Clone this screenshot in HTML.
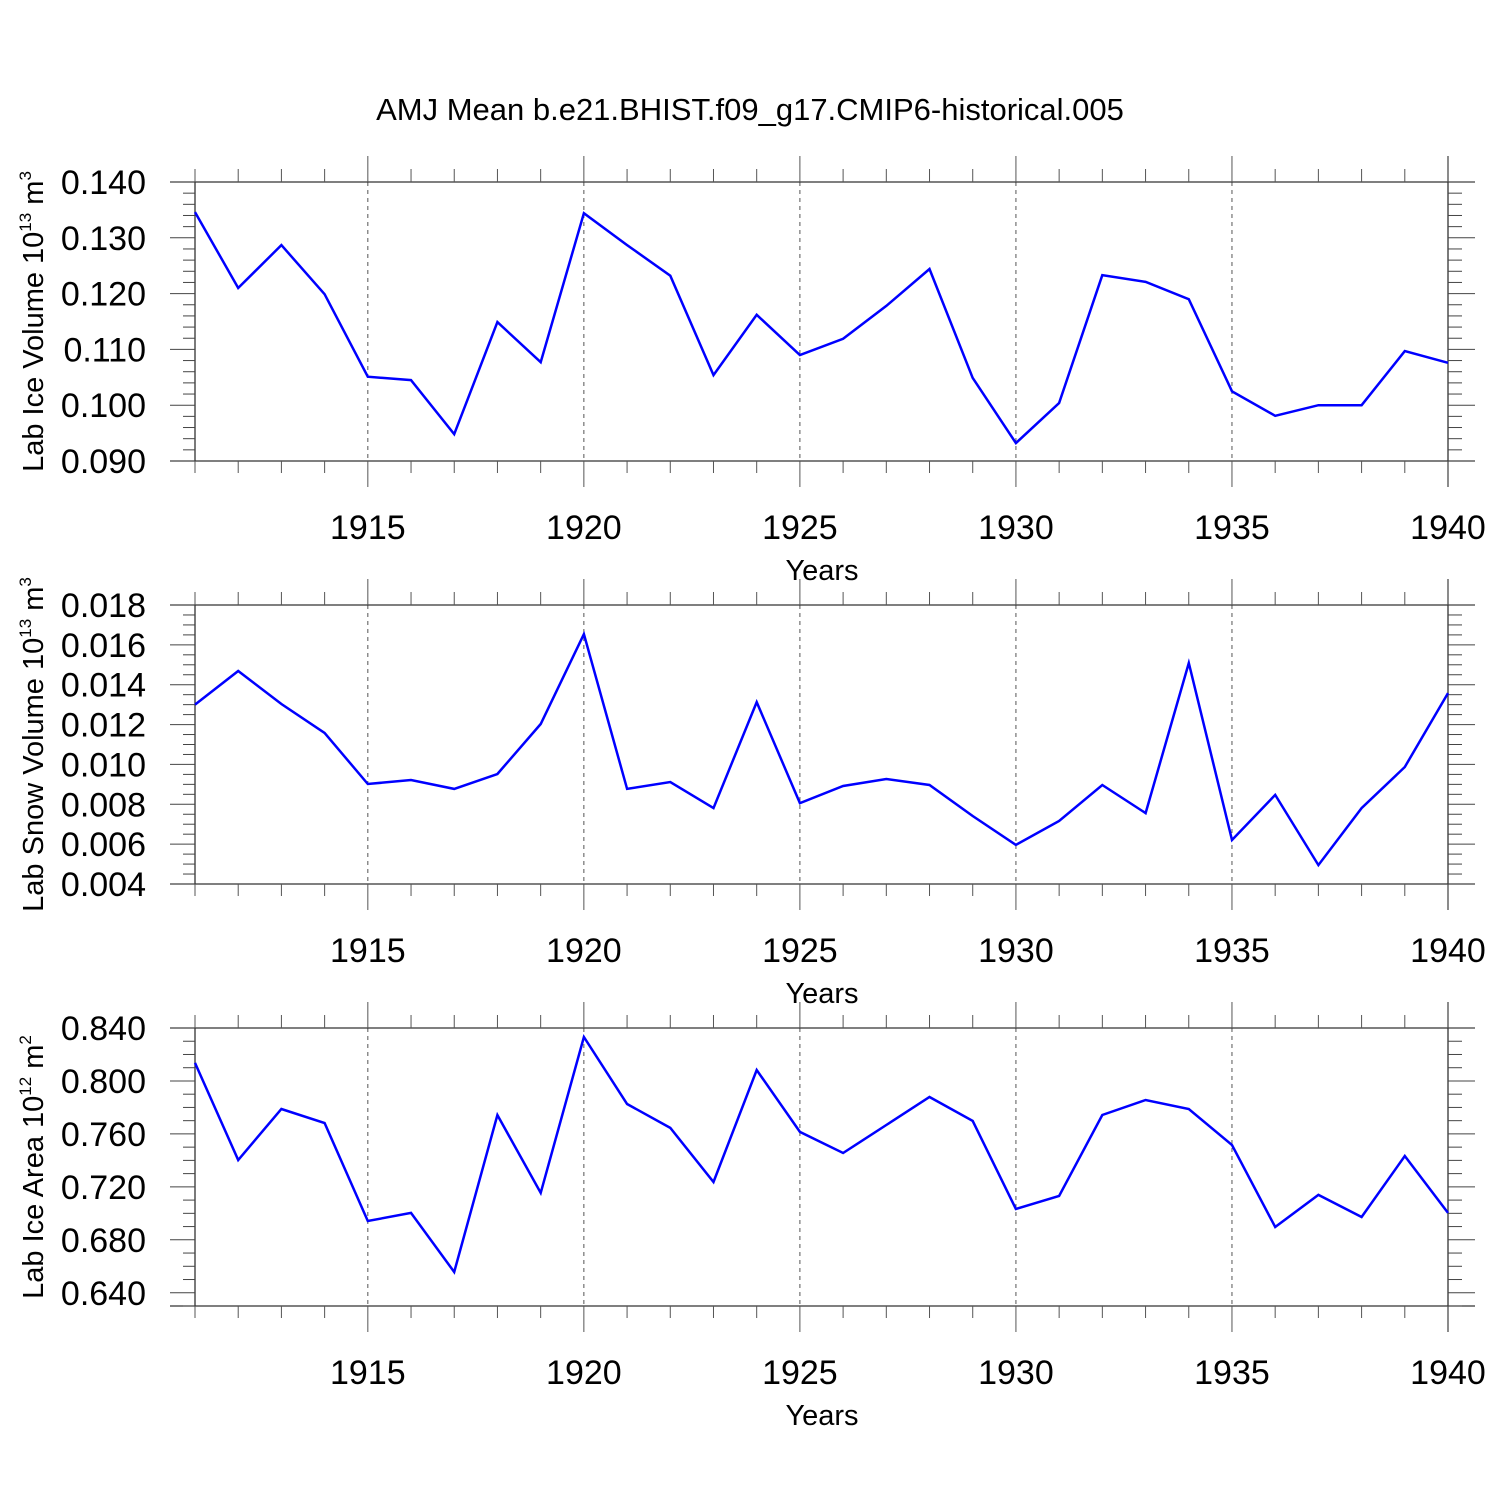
<!DOCTYPE html>
<html><head><meta charset="utf-8"><style>
html,body{margin:0;padding:0;background:#fff;}
svg{display:block;font-family:"Liberation Sans",Arial,sans-serif;}
</style></head><body>
<svg id="chart" width="1500" height="1500" viewBox="0 0 1500 1500" xmlns="http://www.w3.org/2000/svg">
<text x="750" y="120" text-anchor="middle" font-size="31">AMJ Mean b.e21.BHIST.f09_g17.CMIP6-historical.005</text>
</svg>
<script>
const years = [1911,1912,1913,1914,1915,1916,1917,1918,1919,1920,1921,1922,1923,1924,1925,1926,1927,1928,1929,1930,1931,1932,1933,1934,1935,1936,1937,1938,1939,1940];
const iceVolume = [0.1346,0.1210,0.1287,0.1199,0.1051,0.1045,0.0948,0.1149,0.1077,0.1344,0.1287,0.1232,0.1054,0.1162,0.1090,0.1119,0.1178,0.1244,0.1049,0.0932,0.1004,0.1233,0.1221,0.1190,0.1025,0.0981,0.1000,0.1000,0.1097,0.1076];
const snowVolume = [0.0130,0.01469,0.01303,0.01158,0.00902,0.00922,0.00877,0.00952,0.01203,0.01654,0.00877,0.00912,0.00781,0.01313,0.00806,0.00892,0.00927,0.00897,0.00741,0.00596,0.00716,0.00897,0.00756,0.01509,0.00621,0.00847,0.00495,0.00781,0.00987,0.01358];
const iceArea = [0.8136,0.7403,0.7788,0.7682,0.6942,0.7003,0.6557,0.7743,0.7154,0.8332,0.7826,0.7645,0.7237,0.8083,0.7615,0.7456,0.7667,0.7879,0.7698,0.7033,0.7131,0.7743,0.7856,0.7788,0.7516,0.6897,0.7139,0.6972,0.7433,0.7003];
const xTickLabels = [1915,1920,1925,1930,1935,1940];
const iceVolTicks = ["0.090","0.100","0.110","0.120","0.130","0.140"];
const snowVolTicks = ["0.004","0.006","0.008","0.010","0.012","0.014","0.016","0.018"];
const iceAreaTicks = ["0.640","0.680","0.720","0.760","0.800","0.840"];

const NS="http://www.w3.org/2000/svg";
const svg=document.getElementById('chart');
function mk(tag,attrs,parent){const e=document.createElementNS(NS,tag);for(const k in attrs)e.setAttribute(k,attrs[k]);(parent||svg).appendChild(e);return e;}

const X0=195,X1=1448,XL=170,XR=1475;
function xs(yr){return X0+(yr-years[0])/(years[years.length-1]-years[0])*(X1-X0);}

const panels=[
 {name:'ice-volume',top:182,bottom:461,ymin:0.090,ymax:0.140,minor:0.002,ticks:iceVolTicks,data:iceVolume,title:'Lab Ice Volume 10',exp:'13',unit:'m',uexp:'3'},
 {name:'snow-volume',top:605,bottom:884,ymin:0.004,ymax:0.018,minor:0.0005,ticks:snowVolTicks,data:snowVolume,title:'Lab Snow Volume 10',exp:'13',unit:'m',uexp:'3'},
 {name:'ice-area',top:1028,bottom:1306,ymin:0.630,ymax:0.840,minor:0.01,ticks:iceAreaTicks,data:iceArea,title:'Lab Ice Area 10',exp:'12',unit:'m',uexp:'2'}
];

panels.forEach(p=>{
 const g=mk('g',{});
 
 
 const ys=v=>p.bottom-(v-p.ymin)/(p.ymax-p.ymin)*(p.bottom-p.top);
 const st='#333';
 xTickLabels.forEach(yr=>{ if(yr<1940){const l=mk('line',{x1:xs(yr),x2:xs(yr),y1:p.top,y2:p.bottom,stroke:'#555','stroke-width':1,'stroke-dasharray':'4,4'},g);
  }});
 mk('line',{x1:XL,x2:XR,y1:p.top,y2:p.top,stroke:st,'stroke-width':1.3},g);
 mk('line',{x1:XL,x2:XR,y1:p.bottom,y2:p.bottom,stroke:st,'stroke-width':1.3},g);
 mk('line',{x1:X0,x2:X0,y1:p.top,y2:p.bottom,stroke:st,'stroke-width':1.3},g);
 mk('line',{x1:X1,x2:X1,y1:p.top-26,y2:p.bottom+26,stroke:st,'stroke-width':1.3},g);
 years.forEach(yr=>{
  const major=xTickLabels.includes(yr);
  const x=xs(yr);
  mk('line',{x1:x,x2:x,y1:p.top-(major?26:13),y2:p.top,stroke:'#555','stroke-width':1},g);
  mk('line',{x1:x,x2:x,y1:p.bottom,y2:p.bottom+(major?26:12),stroke:'#555','stroke-width':1},g);
 });
 const n=Math.round((p.ymax-p.ymin)/p.minor);
 const majorVals=p.ticks.map(Number);
 for(let i=0;i<=n;i++){
  const v=p.ymin+i*p.minor;const y=ys(v);
  const major=majorVals.some(m=>Math.abs(m-v)<p.minor/10);
  mk('line',{x1:major?XL:183,x2:X0,y1:y,y2:y,stroke:'#444','stroke-width':1},g);
  mk('line',{x1:X1,x2:major?XR:1462,y1:y,y2:y,stroke:'#444','stroke-width':1},g);
 }
 p.ticks.forEach(t=>{
  const tx=mk('text',{x:146,y:ys(Number(t))+12,'text-anchor':'end','font-size':34},g);
  
  
  tx.textContent=t;
 });
 xTickLabels.forEach(yr=>{
  const tx=mk('text',{x:xs(yr),y:p.bottom+78,'text-anchor':'middle','font-size':34},g);
  
  
  tx.textContent=yr;
 });
 const xt=mk('text',{x:822,y:p.bottom+119,'text-anchor':'middle','font-size':29},g);
 
 
 xt.textContent='Years';
 const cy=(p.top+p.bottom)/2;
 const yt=mk('text',{x:0,y:0,'text-anchor':'middle','font-size':29,transform:`translate(43,${cy}) rotate(-90)`},g);
 
 
 const s1=mk('tspan',{},yt);s1.textContent=p.title;
 const s2=mk('tspan',{dy:-12,'font-size':17},yt);s2.textContent=p.exp;
 const s3=mk('tspan',{dy:12},yt);s3.textContent=' '+p.unit;
 const s4=mk('tspan',{dy:-12,'font-size':17},yt);s4.textContent=p.uexp;
 const pts=p.data.map((v,i)=>xs(years[i]).toFixed(1)+','+ys(v).toFixed(1)).join(' ');
 const pl=mk('polyline',{points:pts,fill:'none',stroke:'#0000ff','stroke-width':2.5,'stroke-linejoin':'miter'},g);
 
 
});
</script>
</body></html>
